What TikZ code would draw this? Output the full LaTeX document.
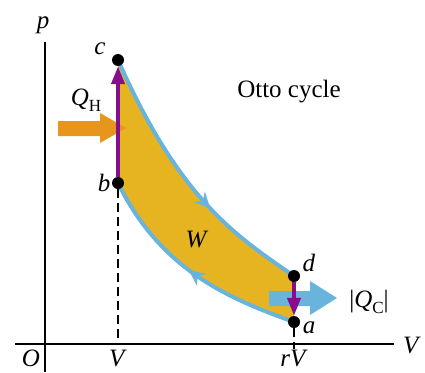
\documentclass[tikz,border=0pt]{standalone}
\usepackage{fontspec}
\setmainfont{Liberation Serif}
\newfontfamily\tms{Liberation Serif}
\usetikzlibrary{arrows.meta,decorations.markings}
\definecolor{gold}{HTML}{E6B420}
\definecolor{sky}{HTML}{68B4DC}
\definecolor{purp}{HTML}{850E8C}
\definecolor{orng}{HTML}{E8951E}
\begin{document}
\begin{tikzpicture}[x=1pt,y=-1pt,
  lbl/.style={font=\tms\fontsize{25}{29}\selectfont, inner sep=0pt},
  dot/.style={circle,fill=black,minimum size=12pt,inner sep=0pt},
  axis/.style={line width=1.4pt,black},
  guide/.style={line width=1.4pt,black,dash pattern=on 9pt off 5pt},
  curve/.style={sky,line width=4pt,postaction=decorate},
  heat/.style={purp,line width=4pt,-{Triangle[length=18pt,width=13pt]}},
  midarrow/.style={decoration={markings,mark=at position #1 with {\arrow{Stealth[length=16pt,width=15pt,sky]}}}}
]
\useasboundingbox (0,0) rectangle (425,372);
% region
\fill[gold] (118,60) .. controls (180,200) and (236,236) .. (294,276)
  -- (294,322) .. controls (224,297) and (160,268) .. (118,183) -- cycle;
% adiabats
\draw[curve,midarrow=0.62] (118,60) .. controls (180,200) and (236,236) .. (294,276);
\draw[curve,midarrow=0.51] (294,322) .. controls (224,297) and (160,268) .. (118,183);
% axes
\coordinate (ytop) at (45,42);
\coordinate (ybot) at (45,372);
\coordinate (xl) at (15,344);
\coordinate (xr) at (394,344);
\draw[axis] (ytop) -- (ybot);
\draw[axis] (xl) -- (xr);
% heat arrows
\fill[orng] (58,121) -- (100,121) -- (100,113) -- (126,128) -- (100,143) -- (100,136) -- (58,136) -- cycle;
\fill[sky] (269,291) -- (310,291) -- (310,281) -- (337,298) -- (310,315) -- (310,306) -- (269,306) -- cycle;
% points
\node[dot] (c) at (118,60) {};
\node[dot] (b) at (118,183) {};
\node[dot] (d) at (294,276) {};
\node[dot] (a) at (294,322) {};
\coordinate (bV) at (118,344);
\coordinate (aV) at (294,349);
\draw[guide] (b) -- (bV);
\draw[guide] (a) -- (aV);
\draw[heat] (b) -- (c);
\draw[heat] (d) -- (a);
% labels
\node[lbl] (lp) at (43,25) {\textit{p}};
\node[lbl] (lVax) at (412,345) {\textit{V}};
\node[lbl] (lO) at (31,358) {\textit{O}};
\node[lbl] (lV) at (118,358) {\textit{V}};
\node[lbl] (lrV) at (294,358) {\textit{rV}};
\node[lbl] (lc) at (100,49) {\textit{c}};
\node[lbl] (lb) at (104,183) {\textit{b}};
\node[lbl] (ld) at (309,263) {\textit{d}};
\node[lbl] (la) at (309,328) {\textit{a}};
\node[lbl] (lW) at (197,240) {\textit{W}};
\node[lbl] (lQH) at (86,100) {\textit{Q}\raisebox{-0.22em}{\fontsize{17}{20}\selectfont H}};
\node[lbl] (lQC) at (369,302) {|\textit{Q}\raisebox{-0.22em}{\fontsize{17}{20}\selectfont C}|};
\node[lbl] (title) at (289,92) {Otto cycle};
\end{tikzpicture}
\end{document}
